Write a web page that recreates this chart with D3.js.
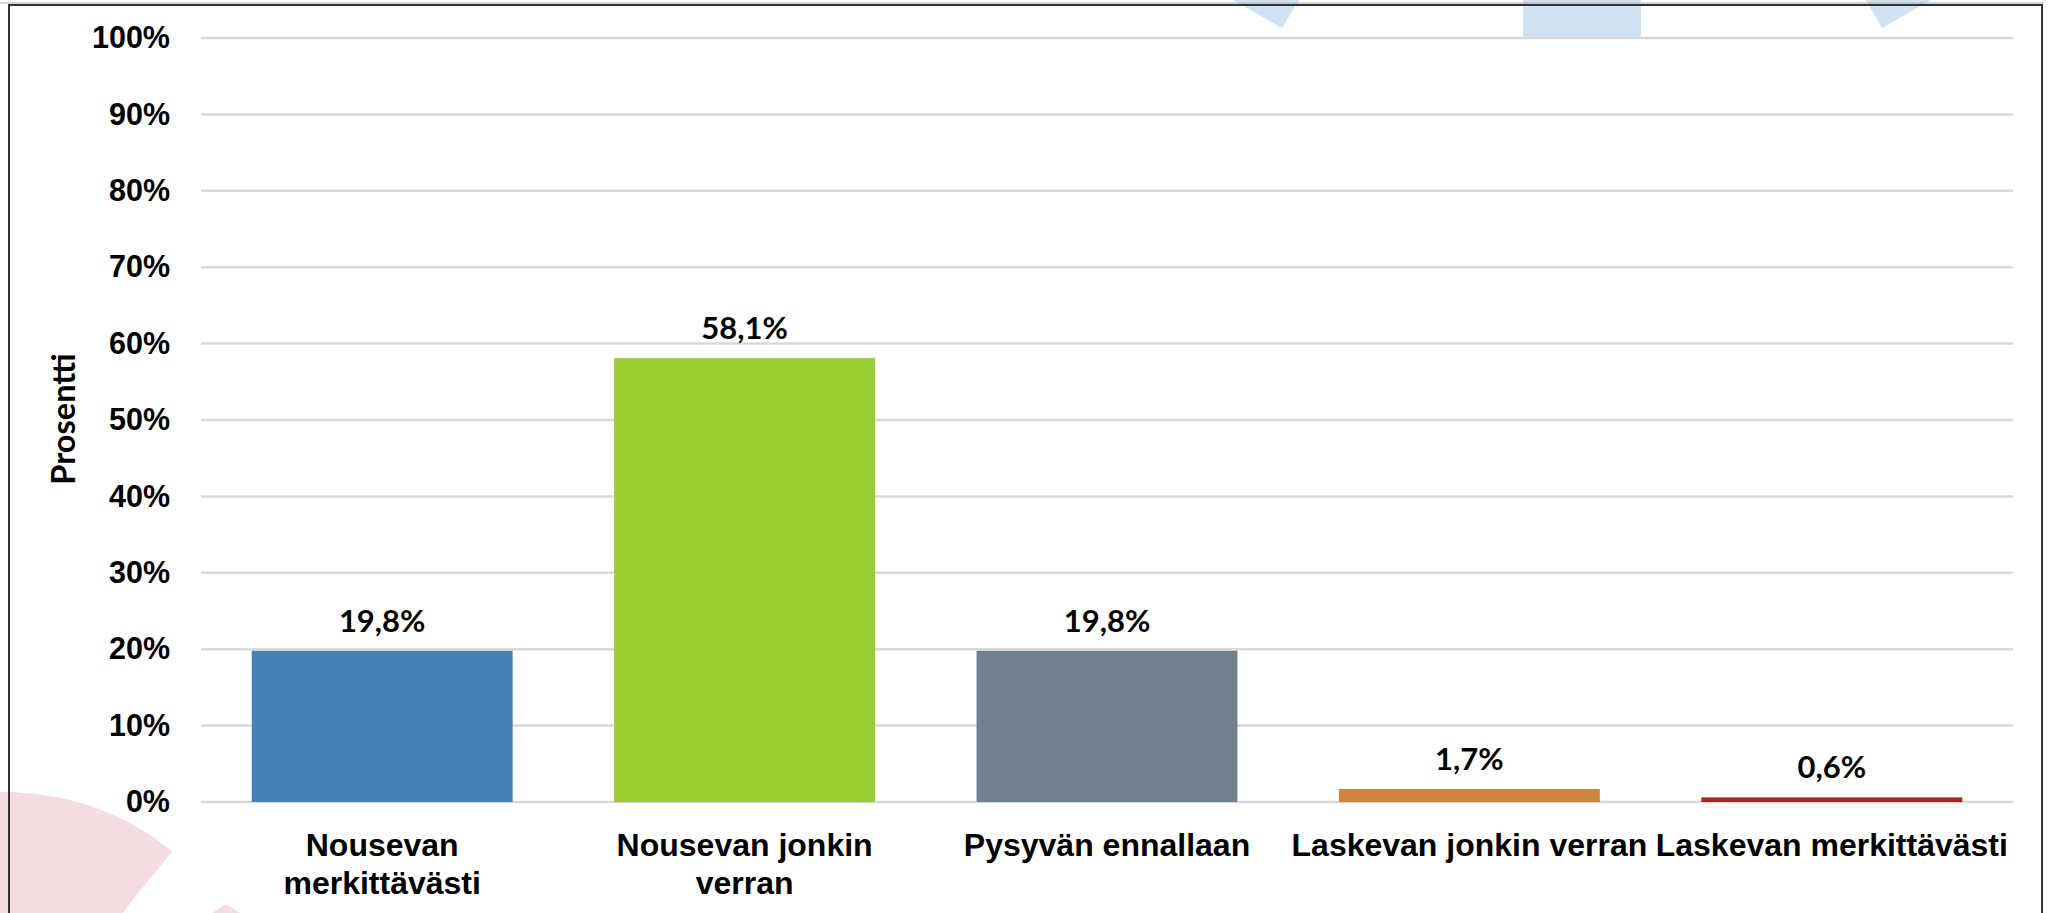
<!DOCTYPE html>
<html>
<head>
<meta charset="utf-8">
<script src="https://cdn.jsdelivr.net/npm/d3@7"></script>
<style>
  html, body { margin: 0; padding: 0; background: #fff; }
  svg { display: block; font-family: "Century Gothic", Lato, "Open Sans", sans-serif; font-weight: bold; }
</style>
</head>
<body>
<div id="chart"></div>
<script>
// categories (line breaks as in the original labels)
const categories = [
    "Nousevan\nmerkittävästi",
    "Nousevan jonkin\nverran",
    "Pysyvän ennallaan",
    "Laskevan jonkin verran",
    "Laskevan merkittävästi"
];
const values = [19.8, 58.1, 19.8, 1.7, 0.6];
const valueLabels = ["19,8%", "58,1%", "19,8%", "1,7%", "0,6%"];
const barColors = ["#4682b4", "#9acd32", "#708090", "#cd853f", "#b22222"];
const yTicks = [0, 10, 20, 30, 40, 50, 60, 70, 80, 90, 100];
const yTitle = "Prosentti";

const W = 2052, H = 913;
const plot = { left: 201, right: 2013, top: 38, bottom: 802 };

const svg = d3.select("#chart").append("svg")
    .attr("width", W)
    .attr("height", H);

// --- decorative background shapes (from the slide behind the chart) ---
const bg = svg.append("g");
const pinkArc = d3.arc()
    .innerRadius(0)
    .outerRadius(266)
    .startAngle(-0.6)
    .endAngle(0.68);
bg.append("path")
    .attr("transform", "translate(5,1058)")
    .attr("d", pinkArc())
    .attr("fill", "#f5dce1");
bg.append("path")
    .attr("d", "M226,904 L212,913 L240,913 Z")
    .attr("fill", "#f5dce1");
bg.append("path")
    .attr("d", "M1233,0 L1299,0 L1282,28 Z")
    .attr("fill", "#cfe2f3");
bg.append("path")
    .attr("d", "M1866,0 L1931,0 L1882,28 Z")
    .attr("fill", "#cfe2f3");
bg.append("rect")
    .attr("x", 1523).attr("y", 0)
    .attr("width", 118).attr("height", 37)
    .attr("fill", "#cfe2f3");

// Scales
const x = d3.scaleBand()
    .domain(categories)
    .range([plot.left, plot.right])
    .paddingInner(0.28)
    .paddingOuter(0.14);

const y = d3.scaleLinear()
    .domain([0, 100])
    .range([plot.bottom, plot.top]);

// Gridlines
svg.append("g")
    .attr("class", "grid")
    .selectAll("line")
    .data(yTicks)
    .enter().append("line")
    .attr("x1", plot.left)
    .attr("x2", plot.right)
    .attr("y1", d => y(d))
    .attr("y2", d => y(d))
    .attr("stroke", "#d9d9d9")
    .attr("stroke-width", 2.5);

// Y axis (labels only)
const yAxis = svg.append("g")
    .attr("transform", `translate(${plot.left},0)`)
    .call(d3.axisLeft(y).tickValues(yTicks).tickFormat(d => d + "%").tickSize(0).tickPadding(31));
yAxis.select(".domain").remove();
yAxis.selectAll("text")
    .attr("font-family", null)
    .attr("font-size", 30.5)
    .attr("fill", "#000");

// Y axis title
svg.append("text")
    .attr("transform", "translate(75,419) rotate(-90)")
    .attr("text-anchor", "middle")
    .attr("font-size", 32.5)
    .attr("fill", "#000")
    .text(yTitle);

// Bars
svg.selectAll(".bar")
    .data(values)
    .enter().append("rect")
    .attr("class", "bar")
    .attr("x", (d, i) => x(categories[i]))
    .attr("y", d => y(d))
    .attr("width", x.bandwidth())
    .attr("height", d => plot.bottom - y(d))
    .attr("fill", (d, i) => barColors[i]);

// Value labels
svg.selectAll(".value")
    .data(values)
    .enter().append("text")
    .attr("class", "value")
    .attr("x", (d, i) => x(categories[i]) + x.bandwidth() / 2)
    .attr("y", d => y(d) - 19)
    .attr("text-anchor", "middle")
    .attr("font-size", 31)
    .attr("fill", "#000")
    .text((d, i) => valueLabels[i]);

// X axis (category labels, wrapped)
const xAxis = svg.append("g")
    .attr("transform", `translate(0,${plot.bottom})`)
    .call(d3.axisBottom(x).tickSize(0).tickFormat(""));
xAxis.select(".domain").remove();
xAxis.selectAll(".tick").each(function(d) {
    const t = d3.select(this).append("text")
        .attr("text-anchor", "middle")
        .attr("font-size", 32)
        .attr("fill", "#000");
    d.split("\n").forEach((line, i) => {
        t.append("tspan")
            .attr("x", 0)
            .attr("y", 54 + i * 38)
            .text(line);
    });
});

// Chart border
svg.append("line").attr("x1", 0).attr("x2", 2043).attr("y1", 3).attr("y2", 3)
    .attr("stroke", "#aaa").attr("stroke-width", 1);
svg.append("rect")
    .attr("x", 9).attr("y", 5)
    .attr("width", 2033).attr("height", 920)
    .attr("fill", "none")
    .attr("stroke", "#333")
    .attr("stroke-width", 2);
</script>
</body>
</html>
